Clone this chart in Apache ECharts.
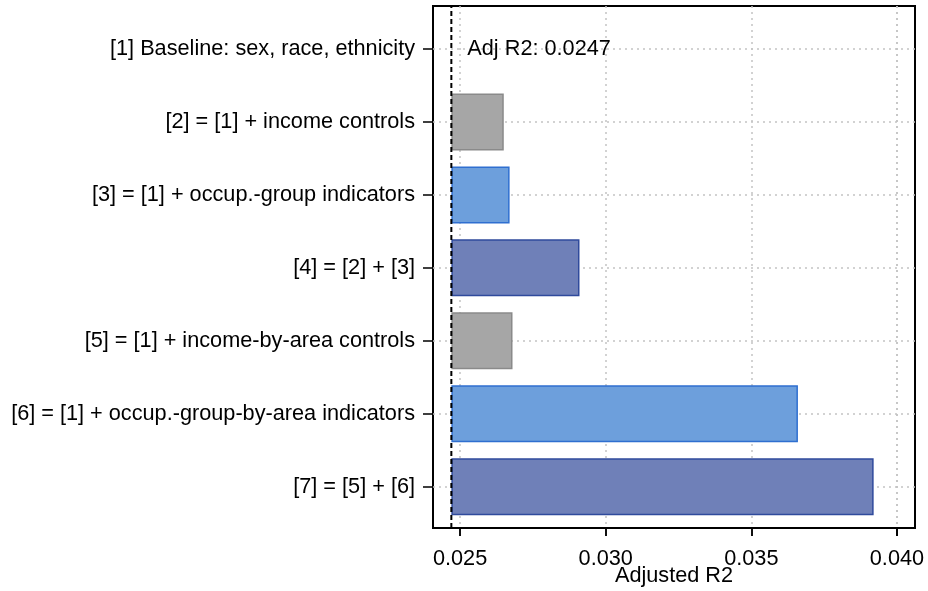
<!DOCTYPE html>
<html>
<head>
<meta charset="utf-8">
<script src="https://cdn.jsdelivr.net/npm/echarts@6/dist/echarts.min.js"></script>
<style>
html,body{margin:0;padding:0;background:#fff;}
#chart{width:928px;height:591px;}
</style>
</head>
<body>
<div id="chart"></div>
<script>
// ---- data ----
const CATEGORIES = [
  '[1] Baseline: sex, race, ethnicity',
  '[2] = [1] + income controls',
  '[3] = [1] + occup.-group indicators',
  '[4] = [2] + [3]',
  '[5] = [1] + income-by-area controls',
  '[6] = [1] + occup.-group-by-area indicators',
  '[7] = [5] + [6]'
];
const ADJ_R2 = [0.0247, 0.0265, 0.0267, 0.0291, 0.0268, 0.0366, 0.0392];
const BASELINE = 0.0247;
const X_TICKS = [0.025, 0.030, 0.035, 0.040];
const X_MIN = 0.02407;
const X_MAX = 0.04062;

// ---- styles / layout ----
const FONT = 'Arial, "Liberation Sans", sans-serif';
const FS = 21.7;
const FILL = ['#a6a6a6', '#a6a6a6', '#6d9fdc', '#6f80b8', '#a6a6a6', '#6d9fdc', '#6f80b8'];
const EDGE = ['#8a8a8a', '#8a8a8a', '#2f6fd0', '#2f4a9c', '#8a8a8a', '#2f6fd0', '#2f4a9c'];
const GRID_LINE = { color: '#c4c4c4', width: 1.5, type: [2, 4] };
const W = 928, H = 591, LEFT = 433, RIGHT = 13, BOTTOM = 63, TICK_LEN = 8;

// tick grid: same pixel scale, spanning only first..last tick so ticks start at a round value
const plotW = W - LEFT - RIGHT;
const pxPer = plotW / (X_MAX - X_MIN);
const TICK_MIN = X_TICKS[0], TICK_MAX = X_TICKS[X_TICKS.length - 1];
const TICK_STEP = X_TICKS[1] - X_TICKS[0];
const tickLeft = LEFT + (TICK_MIN - X_MIN) * pxPer;
const tickRight = RIGHT + (X_MAX - TICK_MAX) * pxPer;

const chart = echarts.init(document.getElementById('chart'), null, { renderer: 'canvas' });

const barData = ADJ_R2.map((v, i) => {
  const d = +(v - BASELINE).toFixed(6);
  return {
    value: d === 0 ? '-' : d,
    itemStyle: { color: FILL[i], borderColor: EDGE[i], borderWidth: 1.5 }
  };
});

const NOB = { containLabel: false, outerBoundsMode: 'none' };

chart.setOption({
  backgroundColor: '#fff',
  animation: false,
  textStyle: { fontFamily: FONT },
  grid: [
    Object.assign({ left: LEFT, right: RIGHT, top: 12.5, bottom: 67.8, show: false }, NOB),
    Object.assign({ left: LEFT, right: RIGHT, top: 6, bottom: BOTTOM, show: true, borderColor: '#000', borderWidth: 2, backgroundColor: 'transparent', z: 0 }, NOB),
    Object.assign({ left: tickLeft, right: tickRight, top: 6, bottom: BOTTOM, show: false }, NOB),
    Object.assign({ left: tickLeft, right: tickRight, top: H - BOTTOM, height: TICK_LEN, show: false }, NOB)
  ],
  xAxis: [
    { gridIndex: 0, type: 'value', min: X_MIN, max: X_MAX, show: false },
    {
      gridIndex: 1, type: 'value', min: X_MIN, max: X_MAX,
      axisLine: { show: true, lineStyle: { color: '#000', width: 2 } },
      axisTick: { show: false },
      axisLabel: { show: false },
      splitLine: { show: false },
      name: 'Adjusted R2', nameLocation: 'middle', nameGap: 37, nameMoveOverlap: false,
      nameTextStyle: { color: '#000', fontSize: FS, fontFamily: FONT }
    },
    {
      gridIndex: 2, type: 'value', min: TICK_MIN, max: TICK_MAX, interval: TICK_STEP,
      axisLine: { show: false },
      axisTick: { show: true, length: TICK_LEN, lineStyle: { color: '#000', width: 1.5 } },
      axisLabel: {
        formatter: v => v.toFixed(3), showMinLabel: true, showMaxLabel: true,
        color: '#000', fontSize: FS, fontFamily: FONT, margin: 20
      },
      splitLine: { show: true, lineStyle: GRID_LINE }
    },
    {
      gridIndex: 3, type: 'value', min: TICK_MIN, max: TICK_MAX, interval: TICK_STEP,
      axisLine: { show: false }, axisTick: { show: false }, axisLabel: { show: false },
      splitLine: { show: true, lineStyle: { color: '#000', width: 1.5, type: 'solid' } }
    }
  ],
  yAxis: [
    {
      gridIndex: 0, type: 'category', data: CATEGORIES, inverse: true,
      axisLine: { show: false },
      axisTick: { show: true, alignWithLabel: true, length: 10, lineStyle: { color: '#000', width: 1.5 } },
      axisLabel: { color: '#000', fontSize: FS, fontFamily: FONT, margin: 18 },
      splitLine: { show: false }
    },
    { gridIndex: 1, type: 'value', min: 0, max: 1, show: false },
    { gridIndex: 2, type: 'value', min: 0, max: 1, show: false },
    { gridIndex: 3, type: 'value', min: 0, max: 1, show: false }
  ],
  series: [
    {
      type: 'bar', name: 'base', xAxisIndex: 0, yAxisIndex: 0, stack: 'r2',
      data: CATEGORIES.map(() => BASELINE), barWidth: 57,
      itemStyle: { color: 'transparent' }, silent: true
    },
    {
      type: 'bar', name: 'Adjusted R2', xAxisIndex: 0, yAxisIndex: 0, stack: 'r2',
      data: barData, barWidth: 57, z: 3,
      markLine: {
        silent: true, symbol: 'none', z: 1,
        label: { show: false },
        lineStyle: GRID_LINE,
        data: CATEGORIES.map(c => ({ yAxis: c }))
      },
      markPoint: {
        silent: true, symbol: 'circle', symbolSize: 0,
        label: {
          show: true, position: 'right', distance: 16,
          formatter: 'Adj R2: ' + BASELINE.toFixed(4),
          color: '#000', fontSize: FS, fontFamily: FONT
        },
        data: [{ coord: [BASELINE, CATEGORIES[0]] }]
      }
    },
    {
      type: 'line', name: 'baseline', xAxisIndex: 1, yAxisIndex: 1, z: 10,
      data: [[BASELINE, 0], [BASELINE, 1]], symbol: 'none', silent: true,
      lineStyle: { color: '#000', width: 2, type: [5, 3] }
    }
  ]
});
</script>
</body>
</html>
